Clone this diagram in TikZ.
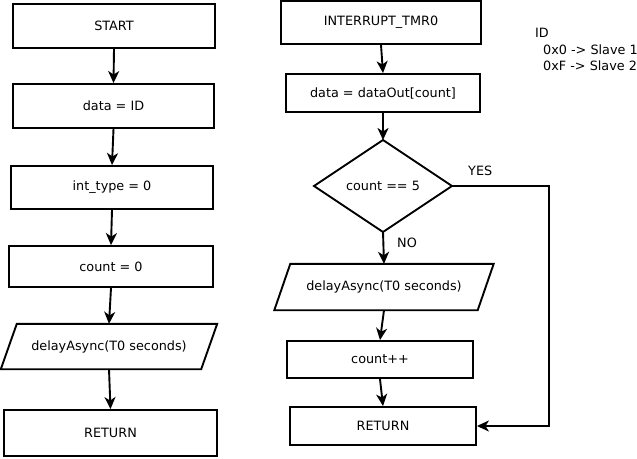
\documentclass[tikz,border=0pt]{standalone}
\usepackage{fontspec}
\setmainfont{DejaVu Sans}
\usetikzlibrary{arrows.meta}
\begin{document}
\begin{tikzpicture}[x=1pt,y=-1pt,
  font=\fontsize{12.8}{15}\selectfont,
  box/.style={draw,line width=1.9pt,minimum width=#1,inner sep=0pt},
  pbox/.style={minimum width=#1,inner sep=0pt},
  conn/.style={line width=1.9pt,-{Stealth[length=12pt,width=11pt,inset=3.5pt]}},
  lbl/.style={inner sep=0pt,anchor=west}]
\useasboundingbox (0,0) rectangle (637,458);
% left column
\node[box=202,minimum height=44] (start) at (114,26) {START};
\node[box=201,minimum height=44] (dataid) at (113.5,106) {data = ID};
\node[box=202,minimum height=43] (inttype) at (112,187.5) {int\_type = 0};
\node[box=204,minimum height=41] (count0) at (111,266.5) {count = 0};
\node[pbox=200,minimum height=45] (delayL) at (109,346.5) {delayAsync(T0 seconds)};
\draw[line width=1.9pt] ([xshift=-8pt]delayL.south west) -- ([xshift=8pt]delayL.north west) -- ([xshift=8pt]delayL.north east) -- ([xshift=-8pt]delayL.south east) -- cycle;
\node[box=213,minimum height=46] (retL) at (110.5,433) {RETURN};
\draw[conn] (start.south) -- (dataid.north);
\draw[conn] (dataid.south) -- (inttype.north);
\draw[conn] (inttype.south) -- (count0.north);
\draw[conn] (count0.south) -- (delayL.north);
\draw[conn] (delayL.south) -- (retL.north);
% right column
\node[box=200,minimum height=43] (intr) at (381,22.5) {INTERRUPT\_TMR0};
\node[box=194,minimum height=38] (dataout) at (383,93) {data = dataOut[count]};
\coordinate (dc) at (383,186);
\coordinate (dt) at (383,140);
\coordinate (db) at (383,232);
\coordinate (dl) at (314,186);
\coordinate (dr) at (452,186);
\draw[line width=1.9pt,line join=miter] (dt) -- (dr) -- (db) -- (dl) -- cycle;
\node (cond) at (dc) {count == 5};
\node[pbox=203,minimum height=46] (delayR) at (384,287) {delayAsync(T0 seconds)};
\draw[line width=1.9pt] ([xshift=-8pt]delayR.south west) -- ([xshift=8pt]delayR.north west) -- ([xshift=8pt]delayR.north east) -- ([xshift=-8pt]delayR.south east) -- cycle;
\node[box=186,minimum height=37] (cpp) at (380,359.5) {count++};
\node[box=186,minimum height=38] (retR) at (383,426) {RETURN};
\coordinate (yc1) at (549,186);
\coordinate (yc2) at (549,426);
\draw[conn] (intr.south) -- (dataout.north);
\draw[conn] (dataout.south) -- (dt);
\draw[conn] (db) -- (delayR.north);
\draw[conn] (delayR.south) -- (cpp.north);
\draw[conn] (cpp.south) -- (retR.north);
\draw[conn] (dr) -- (yc1) -- (yc2) -- (retR.east);
\node[lbl] (yes) at (468,171) {YES};
\node[lbl] (no) at (397,243) {NO};
\node[lbl] (id) at (535,33) {ID};
\node[lbl] (s1) at (543,49.5) {0x0 -> Slave 1};
\node[lbl] (s2) at (543,65.5) {0xF -> Slave 2};
\end{tikzpicture}
\end{document}
